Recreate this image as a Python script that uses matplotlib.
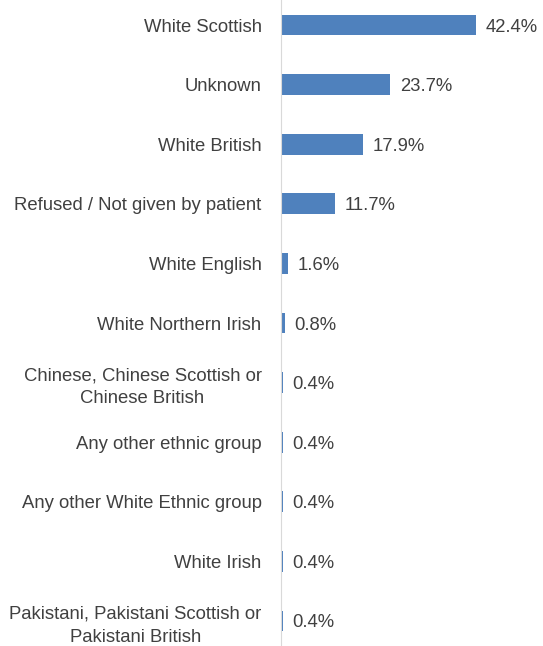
import matplotlib.pyplot as plt

plt.rcParams['font.family'] = ['Liberation Sans', 'DejaVu Sans']

categories = [
    'White Scottish',
    'Unknown',
    'White British',
    'Refused / Not given by patient',
    'White English',
    'White Northern Irish',
    'Chinese, Chinese Scottish or\nChinese British',
    'Any other ethnic group',
    'Any other White Ethnic group',
    'White Irish',
    'Pakistani, Pakistani Scottish or\nPakistani British',
]
values = [42.4, 23.7, 17.9, 11.7, 1.6, 0.8, 0.4, 0.4, 0.4, 0.4, 0.4]

text_col = '#404040'
bar_col = '#4f81bd'
fs = 13.3

fig = plt.figure(figsize=(5.43, 6.46), dpi=100)
ax = fig.add_axes([281 / 543, -0.0074, 1 - 281 / 543, 1.0148])

pos = list(range(len(categories)))
bars = ax.barh(pos, values, height=0.35, color=bar_col)
ax.set_ylim(len(categories) - 0.5, -0.5)
ax.set_xlim(0, 57)

vlabels = ax.bar_label(bars, labels=[f'{v:.1f}%' for v in values], padding=7,
                       fontsize=fs, color=text_col)
for t in vlabels:
    t.set_va('center_baseline')

ax.set_yticks(pos)
ax.set_yticklabels(categories, fontsize=fs, color=text_col)
for lab in ax.get_yticklabels():
    lab.set_multialignment('center')
    lab.set_linespacing(1.45)
ax.tick_params(axis='y', length=0, pad=14)
ax.set_xticks([])

for s in ['top', 'right', 'bottom']:
    ax.spines[s].set_visible(False)
ax.spines['left'].set_color('#d9d9d9')

fig.savefig('out.png', dpi=100)
